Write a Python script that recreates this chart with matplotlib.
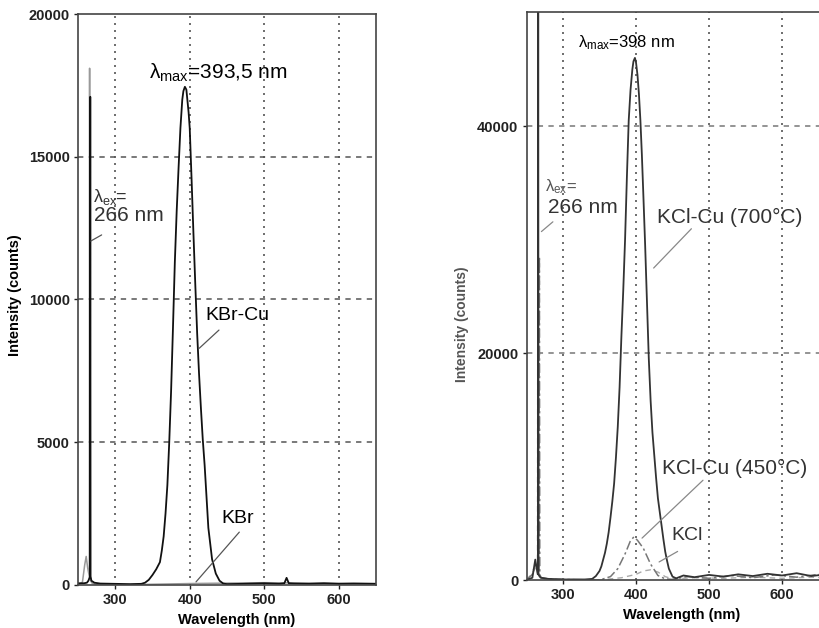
import matplotlib.pyplot as plt

plt.rcParams['font.family'] = ['Liberation Sans', 'DejaVu Sans']
plt.rcParams['mathtext.fontset'] = 'custom'
plt.rcParams['mathtext.rm'] = 'Liberation Sans'
plt.rcParams['mathtext.it'] = 'Liberation Sans'

# --- left panel: KBr-Cu / KBr ---
kbrcu_wl = [250, 258, 262, 264, 266.1, 266.5, 266.9, 268, 272, 280, 300, 320, 335, 340, 345,
            350, 355, 360, 362.5, 365, 367.5, 370, 372.5, 375, 377.5, 380, 382.5, 385, 387.5,
            390, 391.5, 393.5, 395.5, 398.5, 400, 402.5, 405, 407.5, 410, 412.5, 415, 417.5,
            420, 422.5, 425, 430, 435, 440, 445, 450, 470, 500, 520, 527, 530, 533, 540, 560,
            580, 600, 620, 650]
kbrcu_int = [60, 60, 80, 150, 300, 17100, 300, 150, 80, 50, 40, 30, 40, 80, 180,
             350, 550, 800, 1200, 1700, 2500, 3500, 5000, 6800, 9000, 11300, 13100, 14600, 16000,
             17000, 17300, 17450, 17350, 16550, 16000, 14200, 12300, 10500, 8800, 7400, 6200, 5100,
             4200, 3100, 2000, 900, 400, 150, 50, 30, 40, 60, 40, 60, 250, 60, 50, 40,
             60, 40, 50, 40]

kbr_wl = [250, 256, 259, 261, 263, 265.2, 265.6, 266.0, 267, 269, 275, 300, 400, 500, 600, 650]
kbr_int = [0, 100, 700, 1000, 600, 300, 18100, 300, 150, 60, 20, 0, 50, 80, 60, 50]

# --- right panel: KCl-Cu (700 C) / KCl-Cu (450 C) / KCl ---
kcl700_wl = [250, 258, 262, 264, 265.6, 266.0, 266.4, 268, 270, 280, 300, 330, 340, 345, 350,
             352.5, 355, 357.5, 360, 362.5, 365, 367.5, 370, 372.5, 375, 377.5, 380, 382.5,
             385, 387.5, 390, 392.5, 395, 396.5, 398.5, 400, 402, 404, 406, 408, 410, 412.5,
             415, 417.5, 420, 422.5, 425, 427.5, 430, 432.5, 435, 437.5, 440, 442.5, 445, 450,
             455, 465, 480, 500, 520, 540, 560, 580, 600, 620, 640, 660, 680, 700]
kcl700_int = [0, 200, 1800, 1000, 500, 60000, 500, 300, 200, 100, 50, 50, 100, 350, 800,
              1200, 1800, 2400, 3200, 4200, 5500, 6900, 8500, 10800, 13500, 17000, 21500, 25500,
              30000, 35500, 40500, 43200, 45000, 45700, 46000, 45600, 44500, 42800, 40500, 37500, 34000, 29500,
              24500, 19500, 15800, 13000, 11000, 9000, 7200, 6000, 4800, 3600, 2500, 1700, 1000, 300,
              150, 400, 250, 450, 300, 500, 350, 550, 400, 600, 350, 500, 400, 450]

kcl450_wl = [250, 258, 262, 265, 267, 267.6, 268.2, 270, 280, 300, 350, 365, 375, 385, 392,
             397, 402, 410, 420, 430, 440, 450, 470, 500, 530, 560, 590, 620, 650, 680, 700]
kcl450_int = [0, 500, 1500, 800, 500, 28500, 500, 200, 100, 50, 0, 300, 1000, 2300, 3400,
              3800, 3500, 2800, 1400, 400, 100, 50, 300, 150, 400, 200, 450, 250, 500, 300, 350]

kcl_wl = [250, 260, 263, 265, 265.5, 266, 268, 275, 300, 350, 380, 400, 410, 420, 430,
          440, 450, 480, 520, 560, 600, 640, 680, 700]
kcl_int = [0, 800, 1200, 500, 33500, 500, 200, 100, 50, 0, 200, 500, 800, 900, 700,
           300, 100, 200, 150, 250, 150, 250, 150, 200]

xticks = [300, 400, 500, 600]
left_yticks = [0, 5000, 10000, 15000, 20000]
right_yticks = [0, 20000, 40000]

fig = plt.figure(figsize=(8.2, 6.28), dpi=100)
ax1 = fig.add_axes([0.0951, 0.0685, 0.3634, 0.9092])
ax2 = fig.add_axes([0.6421, 0.0764, 0.4006, 0.9037])

grid_c = '#555555'
for ax in (ax1, ax2):
    for x in xticks + [700]:
        ax.axvline(x, color=grid_c, lw=1.2, ls=(0, (1.2, 3.0)), zorder=0)
    for s in ax.spines.values():
        s.set_color('#444444')
        s.set_linewidth(1.2)
    ax.tick_params(direction='out', length=3, width=1, pad=3, labelsize=10.5, colors='#222222')

# left panel
for y in left_yticks[1:-1]:
    ax1.axhline(y, color=grid_c, lw=1.1, ls=(0, (3.5, 3.5)), zorder=0)
ax1.plot(kbr_wl, kbr_int, color='#999999', lw=1.1)
ax1.plot(kbrcu_wl, kbrcu_int, color='#111111', lw=1.3)
ax1.set_xlim(250, 650)
ax1.set_ylim(0, 20000)
ax1.set_xticks(xticks)
ax1.set_yticks(left_yticks)
for lab in ax1.get_xticklabels() + ax1.get_yticklabels():
    lab.set_fontweight('bold')

ax1.text(345, 17950, r'$\lambda_{\rm max}$=393,5 nm', fontsize=15, va='center', ha='left')
ax1.text(270, 13580, r'$\lambda_{\rm ex}$=', fontsize=13, va='center', ha='left', color='#333333')
ax1.text(271, 12950, '266 nm', fontsize=15, va='center', ha='left', color='#333333')
ax1.text(421, 9450, 'KBr-Cu', fontsize=14, va='center', ha='left')
ax1.text(442, 2345, 'KBr', fontsize=14, va='center', ha='left')
leader = dict(arrowstyle='-', color='#555555', lw=0.9)
ax1.annotate('', xy=(264, 12000), xytext=(285, 12310), arrowprops=leader)
ax1.annotate('', xy=(410, 8225), xytext=(442, 8995), arrowprops=leader)
ax1.annotate('', xy=(406, 35), xytext=(469, 1925), arrowprops=leader)

fig.text(15 / 820, 1 - 295 / 628, 'Intensity (counts)', rotation=90, fontsize=10.5,
         fontweight='bold', ha='center', va='center')
fig.text(237 / 820, 1 - 620 / 628, 'Wavelength (nm)', fontsize=10.5,
         fontweight='bold', ha='center', va='center')

# right panel
for y in right_yticks[1:]:
    ax2.axhline(y, color='#777777', lw=1.1, ls=(0, (3.5, 3.5)), zorder=0)
ax2.plot(kcl_wl, kcl_int, color='#aaaaaa', lw=1.0, ls=(0, (4, 3)))
ax2.plot(kcl450_wl, kcl450_int, color='#777777', lw=1.1, ls=(0, (6, 2, 1.5, 2)))
ax2.plot(kcl700_wl, kcl700_int, color='#333333', lw=1.3)
ax2.set_xlim(250, 700)
ax2.set_ylim(0, 50000)
ax2.set_xticks(xticks)
ax2.set_yticks(right_yticks)
for lab in ax2.get_xticklabels() + ax2.get_yticklabels():
    lab.set_fontweight('bold')

ax2.text(320.5, 47300, r'$\lambda_{\rm max}$=398 nm', fontsize=12, va='center', ha='left')
ax2.text(275, 34620, r'$\lambda_{\rm ex}$=', fontsize=12, va='center', ha='left', color='#555555')
ax2.text(279.5, 32860, '266 nm', fontsize=15, va='center', ha='left', color='#333333')
ax2.text(429, 31980, 'KCl-Cu (700°C)', fontsize=15, va='center', ha='left', color='#333333')
ax2.text(435, 9870, 'KCl-Cu (450°C)', fontsize=15, va='center', ha='left', color='#333333')
ax2.text(449, 3965, 'KCl', fontsize=14, va='center', ha='left', color='#333333')
leader2 = dict(arrowstyle='-', color='#888888', lw=0.9)
ax2.annotate('', xy=(267.5, 30540), xytext=(289, 31716), arrowprops=leader2)
ax2.annotate('', xy=(421.5, 27310), xytext=(478.5, 31125), arrowprops=leader2)
ax2.annotate('', xy=(405.5, 3524), xytext=(494.5, 8960), arrowprops=leader2)
ax2.annotate('', xy=(428.3, 1470), xytext=(460.3, 2640), arrowprops=leader2)

fig.text(462 / 820, 1 - 324 / 628, 'Intensity (counts)', rotation=90, fontsize=10,
         fontweight='bold', ha='center', va='center', color='#555555')
fig.text(682 / 820, 1 - 615 / 628, 'Wavelength (nm)', fontsize=10.5,
         fontweight='bold', ha='center', va='center')

fig.savefig('out.png', dpi=100)
